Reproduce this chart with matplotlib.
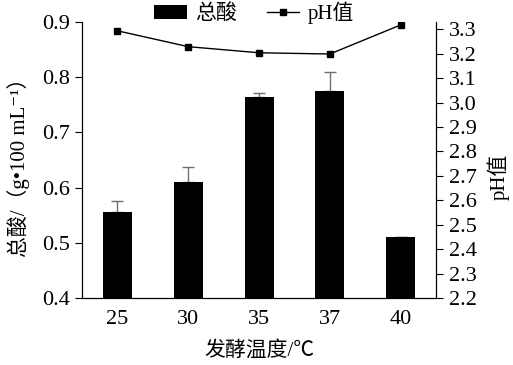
import matplotlib
matplotlib.use("Agg")
import matplotlib.pyplot as plt
import numpy as np

plt.rcParams['font.family'] = ['Liberation Serif', 'Noto Sans CJK SC', 'DejaVu Sans']

temps = ['25', '30', '35', '37', '40']
total_acid = [0.555, 0.610, 0.765, 0.775, 0.510]
acid_err = [0.021, 0.027, 0.006, 0.035, 0.0]
ph = [3.294, 3.229, 3.204, 3.199, 3.318]

FS = 15
TICK_FS = 16

fig = plt.figure(figsize=(5.13, 3.65), dpi=100)
ax = fig.add_axes([0.160, 0.1836, 0.690, 0.7561])
x = np.arange(len(temps))

bars = ax.bar(x, total_acid, width=0.41, color='black', label='总酸', zorder=2)
ax.errorbar(x, total_acid, yerr=[np.zeros(len(x)), acid_err], fmt='none',
            ecolor='#707070', elinewidth=1, capsize=4, capthick=1, zorder=1)
ax.set_xlim(-0.5, 4.5)
ax.set_ylim(0.4, 0.9)
ax.set_yticks([0.4, 0.5, 0.6, 0.7, 0.8, 0.9])
ax.set_xticks(x)
ax.set_xticklabels(temps)
ax.tick_params(axis='x', length=0, labelsize=TICK_FS, pad=9)
ax.tick_params(axis='y', direction='out', length=5, labelsize=TICK_FS, pad=4)
ax.spines['top'].set_visible(False)
ax.set_xlabel('发酵温度/℃', fontsize=FS, va='center')
ax.set_ylabel('总酸/（g•100 mL⁻¹）', fontsize=FS, va='center')
ax.xaxis.set_label_coords(0.5, -0.19)
ax.yaxis.set_label_coords(-0.178, 0.49)

ax2 = ax.twinx()
line, = ax2.plot(x, ph, color='black', marker='s', markersize=4, linewidth=1, label='pH值')
ax2.set_ylim(2.2, 3.33)
ph_ticks = np.round(np.arange(2.2, 3.31, 0.1), 1)
ax2.set_yticks(ph_ticks)
ax2.set_yticklabels([f'{v:.1f}' for v in ph_ticks])
ax2.tick_params(axis='y', direction='out', length=5, labelsize=TICK_FS, pad=4)
ax2.spines['top'].set_visible(False)
ax2.set_ylabel('pH值', fontsize=FS, va='center')
ax2.yaxis.set_label_coords(1.175, 0.44)

fig.legend(handles=[bars, line], labels=['总酸', 'pH值'], loc='center', ncol=2,
           bbox_to_anchor=(254 / 513, 1 - 13 / 365), frameon=False, fontsize=FS,
           handlelength=1.55, handletextpad=0.4, columnspacing=1.45, borderpad=0)

fig.savefig('out.png', dpi=100)
